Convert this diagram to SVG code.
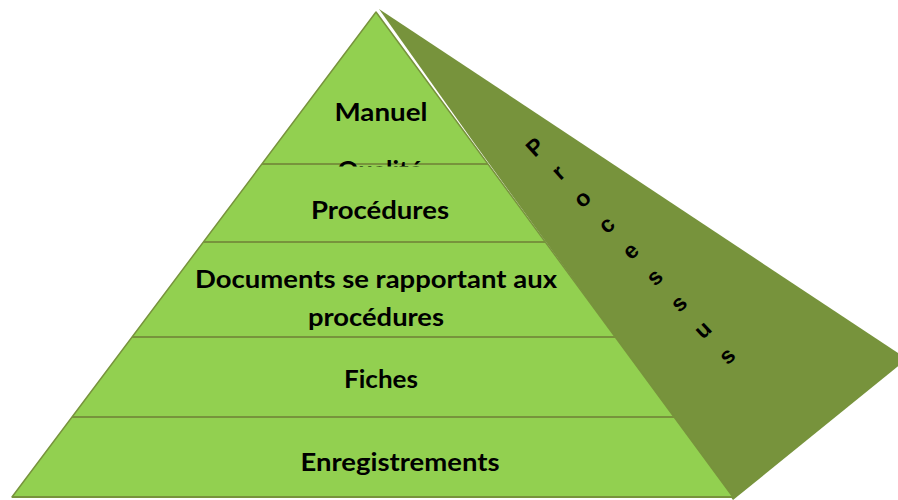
<svg xmlns="http://www.w3.org/2000/svg" width="898" height="500" viewBox="0 0 898 500">
  <style>
    .face { fill: #77933C; }
    .front { fill: #92D050; stroke: #77933C; stroke-width: 1.5; stroke-linejoin: round; }
    .sep { stroke: #77933C; stroke-width: 2; fill: none; }
    .lbl { font-family: "Lato", "Liberation Sans", sans-serif; font-weight: bold; font-size: 24px; fill: #000; text-anchor: middle; }
    .side { font-family: "Liberation Sans", Arial, sans-serif; font-weight: bold; font-size: 23px; fill: #000; text-anchor: middle; }
  </style>
  <defs>
    <clipPath id="topLayerClip">
      <rect x="0" y="0" width="898" height="166.5"/>
    </clipPath>
  </defs>
  <rect width="898" height="500" fill="#fff"/>

  <!-- side face of the pyramid -->
  <g id="side-face">
    <polygon class="face" points="379,9 907,359 733,500 472,140"/>
    <g class="side" transform="translate(535,147) rotate(-42.6)">
      <text x="0" y="8">P</text>
      <text x="0" y="42">r</text>
      <text x="0" y="77.6">o</text>
      <text x="0" y="113.2">c</text>
      <text x="0" y="148.8">e</text>
      <text x="0" y="184.4">s</text>
      <text x="0" y="220">s</text>
      <text x="0" y="255.6">u</text>
      <text x="0" y="291.2">s</text>
    </g>
  </g>

  <!-- front face -->
  <g id="front-face">
    <polygon class="front" points="376,12 12,497 733,497"/>
  </g>

  <!-- layer separators -->
  <g id="connectors">
    <line class="sep" x1="262" y1="164" x2="488" y2="164"/>
    <line class="sep" x1="203.4" y1="242" x2="545.3" y2="242"/>
    <line class="sep" x1="132.1" y1="337" x2="615.2" y2="337"/>
    <line class="sep" x1="72" y1="417" x2="674.1" y2="417"/>
    <line class="sep" x1="12" y1="497" x2="733" y2="497"/>
  </g>

  <g id="layer-manuel">
    <text class="lbl" x="381" y="121" textLength="93" lengthAdjust="spacingAndGlyphs">Manuel</text>
    <text class="lbl" x="380" y="179" textLength="85" lengthAdjust="spacingAndGlyphs" clip-path="url(#topLayerClip)">Qualité</text>
  </g>
  <g id="layer-procedures">
    <text class="lbl" x="380" y="219" textLength="138" lengthAdjust="spacingAndGlyphs">Procédures</text>
  </g>
  <g id="layer-documents">
    <text class="lbl" x="376" y="288" textLength="362" lengthAdjust="spacingAndGlyphs">Documents se rapportant aux</text>
    <text class="lbl" x="376" y="326" textLength="136" lengthAdjust="spacingAndGlyphs">procédures</text>
  </g>
  <g id="layer-fiches">
    <text class="lbl" x="381" y="388" textLength="74" lengthAdjust="spacingAndGlyphs">Fiches</text>
  </g>
  <g id="layer-enregistrements">
    <text class="lbl" x="400" y="471" textLength="199" lengthAdjust="spacingAndGlyphs">Enregistrements</text>
  </g>
</svg>
